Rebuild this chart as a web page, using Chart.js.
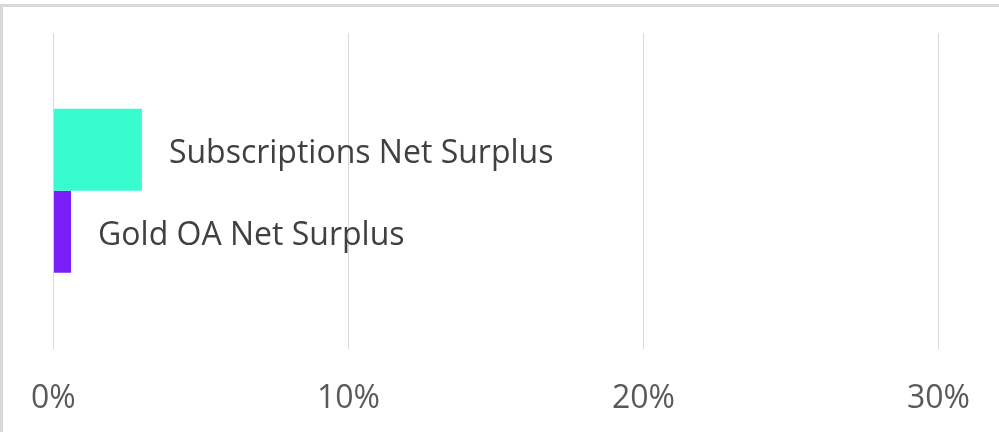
<!DOCTYPE html>
<html>
<head>
<meta charset="utf-8">
<script src="https://cdn.jsdelivr.net/npm/chart.js@4/dist/chart.umd.min.js"></script>
<style>
  html, body { margin: 0; padding: 0; background: #fff; overflow: hidden; }
  #wrap { position: relative; width: 999px; height: 432px; overflow: hidden; }
  #grafico { position: absolute; left: 0; top: 0; }
  #frame { position: absolute; left: 0; top: 4px; right: 0; bottom: -10px;
           border-top: 3px solid #d9d9d9; border-left: 3px solid #d9d9d9; pointer-events: none; }
</style>
</head>
<body>
<div id="wrap">
  <canvas id="grafico" width="1001" height="449"></canvas>
  <div id="frame"></div>
</div>
<script>
const categorias = [''];
const series = ['Subscriptions Net Surplus', 'Gold OA Net Surplus'];
const valores = [[3.0], [0.6]];
const cores = ['#38fbcf', '#7a1ff9'];
const ticksX = [0, 10, 20, 30];

const fonte = '"Open Sans", "DejaVu Sans", sans-serif';

// rótulos com o nome da série ao lado de cada barra
const rotulos = {
  id: 'rotulos',
  afterDatasetsDraw(chart) {
    const ctx = chart.ctx;
    ctx.save();
    ctx.font = '32px ' + fonte;
    ctx.fillStyle = '#404040';
    ctx.textBaseline = 'middle';
    ctx.textAlign = 'left';
    chart.data.datasets.forEach((ds, i) => {
      const meta = chart.getDatasetMeta(i);
      meta.data.forEach(bar => {
        ctx.fillText(ds.label, bar.x + 27, bar.y + 4);
      });
    });
    ctx.restore();
  }
};

new Chart(document.getElementById('grafico').getContext('2d'), {
  type: 'bar',
  data: {
    labels: categorias,
    datasets: series.map((nome, i) => ({
      label: nome,
      data: valores[i],
      backgroundColor: cores[i],
      barPercentage: 1,
      categoryPercentage: 0.52
    }))
  },
  options: {
    indexAxis: 'y',
    responsive: false,
    animation: false,
    layout: { padding: { top: 33, left: 53, right: 56, bottom: 0 } },
    plugins: { legend: { display: false }, tooltip: { enabled: false } },
    scales: {
      x: {
        min: 0,
        max: 30,
        afterBuildTicks: axis => { axis.ticks = ticksX.map(v => ({ value: v })); },
        grid: { color: '#d9d9d9', lineWidth: 1, drawTicks: false },
        border: { display: false },
        ticks: {
          padding: 31,
          color: '#595959',
          font: { family: fonte, size: 32 },
          callback: v => v + '%'
        }
      },
      y: { display: false }
    }
  },
  plugins: [rotulos]
});
</script>
</body>
</html>
